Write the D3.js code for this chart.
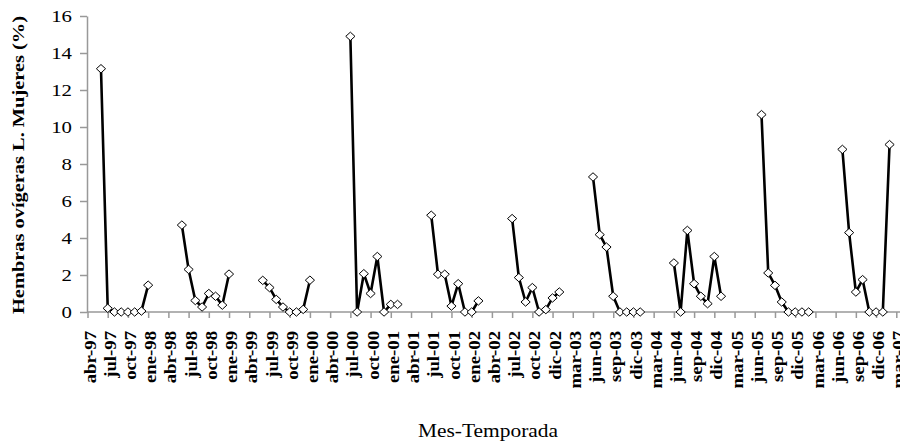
<!DOCTYPE html>
<html>
<head>
<meta charset="utf-8">
<script src="https://cdn.jsdelivr.net/npm/d3@7"></script>
<style>
  body { margin: 0; background: #fff; }
  svg { display: block; }
  text { font-family: "Liberation Serif", "Times New Roman", serif; fill: #000; }
</style>
</head>
<body>
<div id="chart"></div>
<script>
// category axis: one slot per month, label every 3 slots
var tickLabels = ["abr-97","jul-97","oct-97","ene-98","abr-98","jul-98","oct-98","ene-99",
    "abr-99","jul-99","oct-99","ene-00","abr-00","jul-00","oct-00","ene-01","abr-01","jul-01",
    "oct-01","ene-02","abr-02","jul-02","oct-02","dic-02","mar-03","jun-03","sep-03","dic-03",
    "mar-04","jun-04","sep-04","dic-04","mar-05","jun-05","sep-05","dic-05","mar-06","jun-06",
    "sep-06","dic-06","mar-07"];

// first category slot of each season
var seasonStart = [2, 14, 26, 39, 51, 63, 75, 87, 100, 112];

// % ovigerous females per season
var season97 = [13.15, 0.2, 0, 0, 0, 0, 0.05, 1.45];
var season98 = [4.7, 2.3, 0.62, 0.27, 1.0, 0.85, 0.37, 2.05];
var season99 = [1.71, 1.32, 0.68, 0.27, 0, 0, 0.14, 1.72];
var season00 = [14.9, 0, 2.07, 1.0, 3.0, 0, 0.41, 0.41];
var season01 = [5.23, 2.04, 2.04, 0.32, 1.53, 0, 0, 0.6];
var season02 = [5.05, 1.86, 0.54, 1.32, 0, 0.13, 0.76, 1.08];
var season03 = [7.3, 4.18, 3.51, 0.85, 0, 0, 0, 0];
var season04 = [2.65, 0, 4.41, 1.53, 0.85, 0.45, 3.0, 0.85];
var season05 = [10.67, 2.11, 1.44, 0.54, 0, 0, 0, 0];
var season06 = [8.79, 4.29, 1.08, 1.75, 0, 0, 0, 9.05];

var seasons = [season97, season98, season99, season00, season01,
               season02, season03, season04, season05, season06];

var W = 900, H = 443;
var svg = d3.select("#chart").append("svg")
    .attr("width", W)
    .attr("height", H);

var x = d3.scaleLinear().domain([0, 120]).range([87.5, 896.3]);
var y = d3.scaleLinear().domain([0, 16]).range([312, 16]);

// stretch text a bit, the original lettering is wide
function stretch(sel, k) {
    sel.each(function(){
        var len = this.getComputedTextLength();
        d3.select(this).attr("textLength", len * k).attr("lengthAdjust", "spacingAndGlyphs");
    });
}

// y axis
var gY = svg.append("g").attr("transform", "translate(87,0)")
    .call(d3.axisLeft(y).tickValues(d3.range(0, 17, 2)).tickSize(7).tickPadding(8).tickSizeOuter(0));
gY.select(".domain").attr("stroke", "#999").attr("stroke-width", 1.5);
gY.selectAll(".tick line").attr("stroke", "#999").attr("stroke-width", 1.5);
gY.selectAll(".tick text")
    .style("font-family", "Liberation Serif, serif")
    .style("font-size", "16px")
    .attr("fill", "#000")
    .call(stretch, 1.3);

// x axis
var gX = svg.append("g").attr("transform", "translate(0,312)")
    .call(d3.axisBottom(x)
        .tickValues(d3.range(0, 121, 3))
        .tickFormat(function(d){ return tickLabels[d / 3]; })
        .tickSize(6).tickSizeOuter(0));
gX.select(".domain").remove();
gX.append("line")
    .attr("x1", 87).attr("x2", W)
    .attr("stroke", "#999").attr("stroke-width", 1.5);
gX.selectAll(".tick line").attr("stroke", "#999").attr("stroke-width", 1.5);
gX.selectAll(".tick text")
    .style("font-family", "Liberation Serif, serif")
    .style("font-size", "16px")
    .style("font-weight", "bold")
    .attr("fill", "#000")
    .attr("text-anchor", "end")
    .attr("transform", "rotate(-90)")
    .attr("x", -19)
    .attr("y", 2)
    .attr("dy", "0.35em")
    .call(stretch, 1.17);

// series, one path per season
var line = d3.line()
    .x(function(d){ return x(d.i); })
    .y(function(d){ return y(d.v); });

var points = [];
seasons.forEach(function(vals, s){
    var pts = vals.map(function(v, j){ return { i: seasonStart[s] + j, v: v }; });
    points = points.concat(pts);
    svg.append("path")
        .datum(pts)
        .attr("d", line)
        .attr("fill", "none")
        .attr("stroke", "#000")
        .attr("stroke-width", 2.6)
        .attr("stroke-linejoin", "round");
});

svg.selectAll(".mark")
    .data(points)
    .enter().append("path")
    .attr("class", "mark")
    .attr("d", "M0,-4.2L4.6,0L0,4.2L-4.6,0Z")
    .attr("transform", function(d){ return "translate(" + x(d.i) + "," + y(d.v) + ")"; })
    .attr("fill", "#fff")
    .attr("stroke", "#000")
    .attr("stroke-width", 1);

// axis titles
svg.append("text")
    .attr("transform", "translate(24,165) rotate(-90)")
    .attr("text-anchor", "middle")
    .style("font-size", "16px")
    .style("font-weight", "bold")
    .attr("textLength", 298)
    .attr("lengthAdjust", "spacingAndGlyphs")
    .text("Hembras ovígeras L. Mujeres (%)");

svg.append("text")
    .attr("x", 488)
    .attr("y", 437)
    .attr("text-anchor", "middle")
    .style("font-size", "18px")
    .attr("textLength", 140)
    .attr("lengthAdjust", "spacingAndGlyphs")
    .text("Mes-Temporada");
</script>
</body>
</html>
